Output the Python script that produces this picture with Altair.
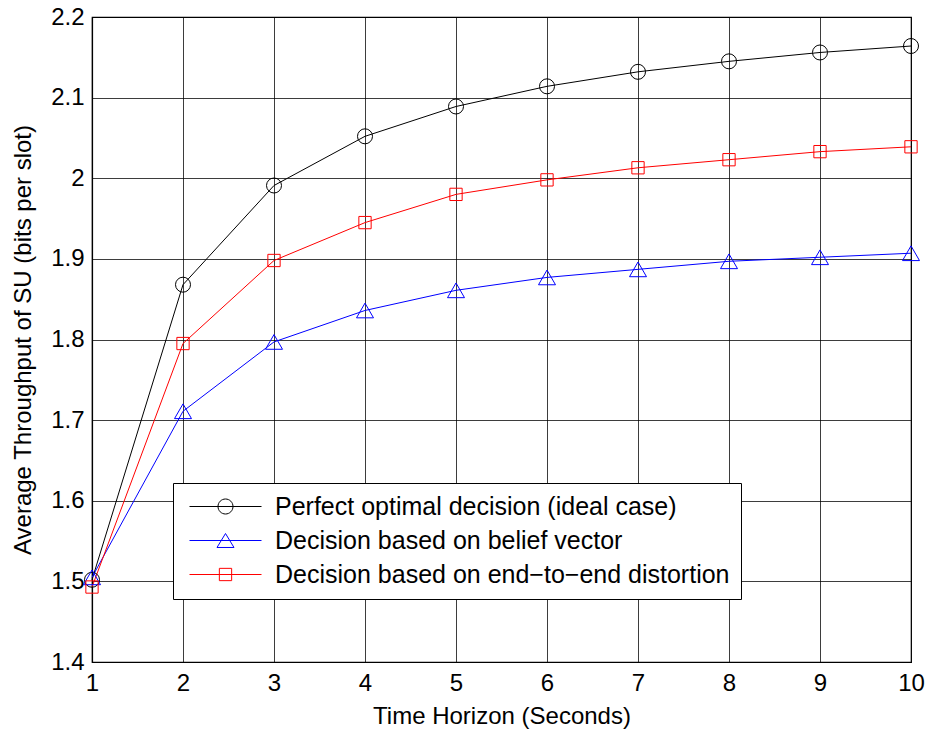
import altair as alt
import pandas as pd

horizon = [1, 2, 3, 4, 5, 6, 7, 8, 9, 10]
series_names = [
    "Perfect optimal decision (ideal case)",
    "Decision based on belief vector",
    "Decision based on end\u2212to\u2212end distortion",
]
perfect = [1.502, 1.868, 1.991, 2.052, 2.089, 2.114, 2.132, 2.145, 2.156, 2.164]
belief = [1.505, 1.711, 1.797, 1.836, 1.861, 1.877, 1.887, 1.897, 1.902, 1.907]
distortion = [1.493, 1.795, 1.898, 1.945, 1.980, 1.998, 2.013, 2.023, 2.033, 2.039]
colors = ["#000000", "#0000ff", "#ff0000"]
shapes = ["circle", "triangle-up", "square"]
marker_sizes = [225, 289, 151]
y_ticks = [1.4, 1.5, 1.6, 1.7, 1.8, 1.9, 2.0, 2.1, 2.2]

rows = []
for name, vals in zip(series_names, [perfect, belief, distortion]):
    for h, v in zip(horizon, vals):
        rows.append({"Time": h, "Throughput": v, "Series": name})
df = pd.DataFrame(rows)

FONT = "Liberation Sans"

x_enc = alt.X(
    "Time:Q",
    scale=alt.Scale(domain=[1, 10], nice=False),
    axis=alt.Axis(
        values=horizon, format="d", title="Time Horizon (Seconds)",
        titleY=61, titleBaseline="alphabetic", labelPadding=9, labelFlush=False,
    ),
)
y_enc = alt.Y(
    "Throughput:Q",
    scale=alt.Scale(domain=[1.4, 2.2], nice=False, zero=False),
    axis=alt.Axis(
        values=y_ticks, format="~g",
        title="Average Throughput of SU (bits per slot)",
        titleX=-69, titleBaseline="middle", labelPadding=8, labelFlush=False,
    ),
)

# legend symbols: line segment with hollow marker (unit = sqrt(size)/2 px)
legend_paths = [
    "M-4.8,0H4.8M-1,0A1,1,0,1,1,1,0A1,1,0,1,1,-1,0",
    "M-4.8,0H4.8M0,-0.933L1.133,0.933L-1.133,0.933Z",
    "M-4.8,0H4.8M-0.82,-0.82H0.82V0.82H-0.82Z",
]

layers = []
for name, col in zip(series_names, colors):
    layers.append(
        alt.Chart(df)
        .transform_filter(alt.datum.Series == name)
        .mark_line(strokeWidth=1, color=col)
        .encode(x=x_enc, y=y_enc)
    )
for name, col, shp, sz in zip(series_names, colors, shapes, marker_sizes):
    layers.append(
        alt.Chart(df)
        .transform_filter(alt.datum.Series == name)
        .mark_point(filled=False, strokeWidth=1, opacity=1, shape=shp, size=sz, color=col)
        .encode(x=x_enc, y=y_enc)
    )

leg = alt.Legend(
    title=None, orient="none", legendX=81, legendY=466,
    strokeColor="#000000", fillColor="#ffffff", padding=11,
    labelFont=FONT, labelFontSize=25, labelColor="#000000",
    symbolSize=225, symbolStrokeWidth=1, symbolOffset=29,
    labelOffset=37, rowPadding=8, labelLimit=600,
)

legend_layer = (
    alt.Chart(df)
    .transform_filter(alt.datum.Time > 100)
    .mark_point(filled=False, strokeWidth=1, opacity=1, size=225)
    .encode(
        x=x_enc, y=y_enc,
        color=alt.Color("Series:N", scale=alt.Scale(domain=series_names, range=colors), legend=leg),
        shape=alt.Shape("Series:N", scale=alt.Scale(domain=series_names, range=legend_paths), legend=leg),
    )
)
layers.append(legend_layer)

chart = (
    alt.layer(*layers)
    .properties(
        width=819, height=645,
        padding={"left": 92, "top": 17, "right": 16, "bottom": 69},
        autosize=alt.AutoSizeParams(type="none"),
        background="#ffffff",
    )
    .configure_view(stroke="#000000", strokeWidth=1.2)
    .configure_axis(
        domainColor="#000000", domainWidth=1.2,
        gridColor="#000000", gridWidth=0.9, gridOpacity=0.85,
        tickSize=0,
        labelFont=FONT, labelFontSize=24, labelColor="#000000",
        titleFont=FONT, titleFontSize=24, titleColor="#000000", titleFontWeight="normal",
    )
)

chart.save("out.html", embed_options={"renderer": "svg", "actions": False})
